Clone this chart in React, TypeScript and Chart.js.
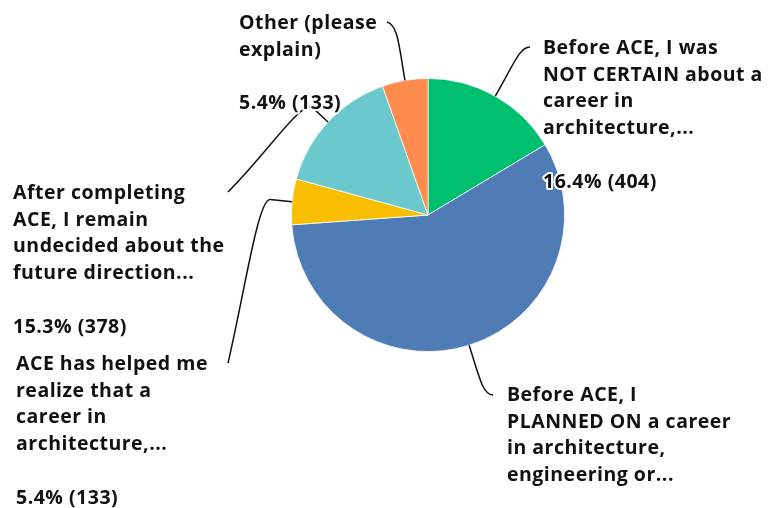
import React, { useEffect, useRef } from "react";
import { Chart, registerables } from "chart.js";

Chart.register(...registerables);

// ---- data ----
const categories: string[][] = [
  ["Before ACE, I was", "NOT CERTAIN about a", "career in", "architecture,..."],
  ["Before ACE, I", "PLANNED ON a career", "in architecture,", "engineering or..."],
  ["ACE has helped me", "realize that a", "career in", "architecture,..."],
  ["After completing", "ACE, I remain", "undecided about the", "future direction..."],
  ["Other (please", "explain)"],
];
const responses = [404, 1415, 133, 378, 133];
const percentLabels = ["16.4%", "57.4%", "5.4%", "15.3%", "5.4%"];
const sliceColors = ["#00BF6F", "#507CB6", "#F9BE00", "#6BC8CD", "#FF8B4F"];

// ---- label layout (style) ----
type LabelLayout = {
  x: number;
  y: number; // baseline of first line
  end: [number, number];
  knee: number;
  c1: number;
  c2: [number, number];
};
const labelLayout: LabelLayout[] = [
  { x: 543, y: 54, end: [530, 47], knee: 0, c1: 40, c2: [-10, 0] },
  { x: 507, y: 401, end: [493, 395], knee: 0, c1: 35, c2: [-10, 0] },
  { x: 16, y: 370, end: [228, 363], knee: 22, c1: 12, c2: [17, -73] },
  { x: 13, y: 199, end: [228, 192], knee: 20, c1: 15, c2: [42, -42] },
  { x: 239, y: 29, end: [387, 22], knee: 0, c1: 35, c2: [11, 3] },
];
const LINE_H = 26.7;
const FONT = "bold 19.5px 'Open Sans', Roboto, sans-serif";

const labelPlugin = {
  id: "pieLabels",
  afterDatasetsDraw(chart: any) {
    const ctx = chart.ctx as CanvasRenderingContext2D;
    const meta = chart.getDatasetMeta(0);
    ctx.save();
    meta.data.forEach((arc: any, i: number) => {
      const L = labelLayout[i];
      const mid = (arc.startAngle + arc.endAngle) / 2;
      const dx = Math.cos(mid);
      const dy = Math.sin(mid);
      const sx = arc.x + dx * arc.outerRadius;
      const sy = arc.y + dy * arc.outerRadius;
      const kx = sx + dx * L.knee;
      const ky = sy + dy * L.knee;
      ctx.beginPath();
      ctx.moveTo(sx, sy);
      if (L.knee > 0) ctx.lineTo(kx, ky);
      ctx.bezierCurveTo(
        kx + dx * L.c1,
        ky + dy * L.c1,
        L.end[0] + L.c2[0],
        L.end[1] + L.c2[1],
        L.end[0],
        L.end[1]
      );
      ctx.strokeStyle = "#111";
      ctx.lineWidth = 1.5;
      ctx.stroke();
    });
    ctx.font = FONT;
    (ctx as any).letterSpacing = "0.5px";
    ctx.textAlign = "left";
    ctx.textBaseline = "alphabetic";
    ctx.lineJoin = "round";
    meta.data.forEach((_arc: any, i: number) => {
      const L = labelLayout[i];
      const lines = [...categories[i], "", `${percentLabels[i]} (${responses[i]})`];
      lines.forEach((t, j) => {
        if (!t) return;
        const y = L.y + j * LINE_H;
        ctx.strokeStyle = "#fff";
        ctx.lineWidth = 4;
        ctx.strokeText(t, L.x, y);
        ctx.fillStyle = "#111";
        ctx.fillText(t, L.x, y);
      });
    });
    ctx.restore();
  },
};

export default function App() {
  const ref = useRef<HTMLCanvasElement | null>(null);
  useEffect(() => {
    document.body.style.margin = "0";
    if (!ref.current) return;
    const chart = new Chart(ref.current, {
      type: "pie",
      data: {
        labels: categories.map((c) => c.join(" ")),
        datasets: [
          {
            data: responses,
            backgroundColor: sliceColors,
            borderColor: "#ffffff",
            borderWidth: 0.8,
          },
        ],
      },
      options: {
        responsive: false,
        animation: false,
        layout: { padding: { left: 291, right: 211, top: 78, bottom: 156 } },
        plugins: {
          legend: { display: false },
          tooltip: { enabled: false },
        },
      },
      plugins: [labelPlugin],
    });
    return () => chart.destroy();
  }, []);
  return (
    <div style={{ width: 776, height: 508, background: "#fff" }}>
      <canvas ref={ref} width={776} height={508} />
    </div>
  );
}
